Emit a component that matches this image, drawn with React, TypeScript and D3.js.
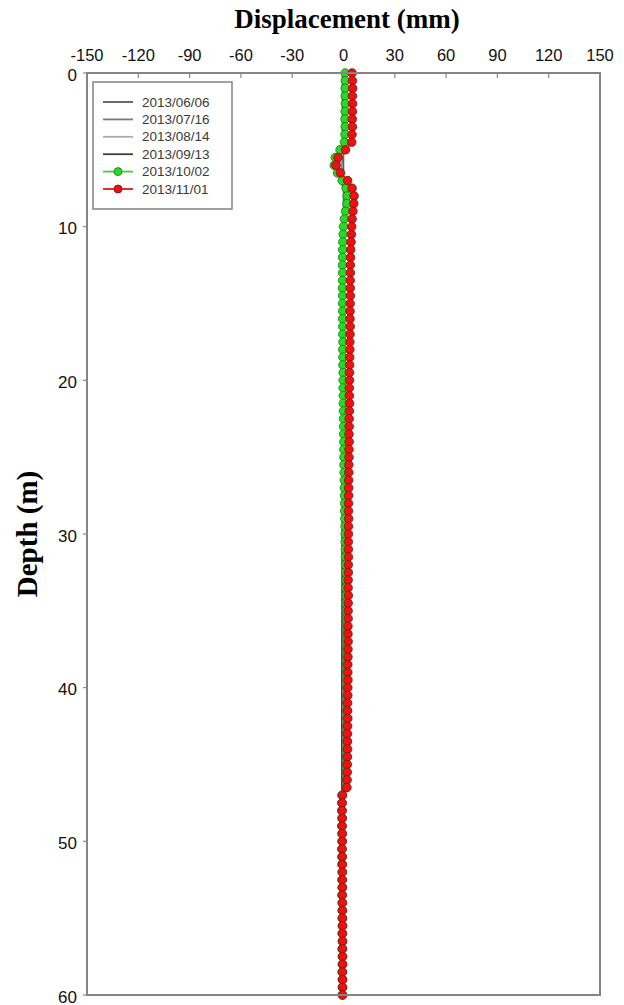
import React from 'react';
import * as d3 from 'd3';

// measurement depths (m), every 0.5 m from 0 to 60
const depths = d3.range(0, 60.5, 0.5);

// 2013/11/01 reading (mm), one value per depth
const dispNov = [
  5.0, 5.2, 5.3, 5.2, 5.3, 5.2, 5.1, 5.2, 5.0, 4.8,
  1.2, -3.2, -4.4, -1.8, 2.4, 5.0, 6.2, 6.0, 5.5, 5.0,
  4.8, 4.6, 4.4, 4.2, 4.1, 4.0, 4.0, 3.9, 3.9, 4.0,
  3.9, 3.8, 3.8, 3.9, 3.8, 3.7, 3.7, 3.6, 3.6, 3.5,
  3.5, 3.4, 3.4, 3.5, 3.4, 3.3, 3.3, 3.2, 3.3, 3.2,
  3.2, 3.1, 3.1, 3.0, 3.0, 3.0, 2.9, 2.9, 3.0, 2.9,
  2.9, 2.8, 2.8, 2.9, 2.8, 2.8, 2.7, 2.7, 2.8, 2.7,
  2.7, 2.7, 2.6, 2.6, 2.7, 2.6, 2.6, 2.5, 2.5, 2.6,
  2.5, 2.5, 2.4, 2.4, 2.5, 2.4, 2.3, 2.3, 2.4, 2.3,
  2.2, 2.2, 2.1, 2.0, -0.6, -0.8, -0.8, -0.7, -0.8, -0.7,
  -0.7, -0.8, -0.7, -0.7, -0.6, -0.7, -0.6, -0.7, -0.6, -0.6,
  -0.6, -0.5, -0.6, -0.5, -0.6, -0.5, -0.5, -0.6, -0.5, -0.5,
  -0.5,
];

// 2013/10/02 reading (mm)
const dispOct = [
  1.0, 1.1, 1.0, 1.0, 1.1, 1.0, 0.9, 1.0, 0.9, 0.6,
  -2.0, -4.8, -5.4, -3.5, -0.8, 1.5, 2.2, 2.0, 1.2, 0.5,
  0.0, -0.2, -0.4, -0.5, -0.5, -0.6, -0.5, -0.5, -0.6, -0.5,
  -0.5, -0.4, -0.5, -0.4, -0.4, -0.3, -0.4, -0.3, -0.3, -0.2,
  -0.2, -0.2, -0.1, -0.1, 0.0, 0.0, 0.1, 0.1, 0.2, 0.2,
  0.3, 0.3, 0.4, 0.5, 0.5, 0.6, 0.7, 0.7, 0.8, 0.9,
  1.0, 1.0, 1.1, 1.2, 1.2, 1.3, 1.4, 1.4, 1.5, 1.5,
  1.6, 1.6, 1.7, 1.7, 1.7, 1.8, 1.8, 1.8, 1.8, 1.9,
  1.9, 1.9, 1.9, 1.9, 2.0, 1.9, 1.9, 1.9, 1.8, 1.8,
  1.8, 1.7, 1.7, 1.6, -0.9, -1.0, -1.0, -0.9, -1.0, -0.9,
  -0.9, -1.0, -0.9, -0.9, -0.8, -0.9, -0.8, -0.9, -0.8, -0.8,
  -0.8, -0.7, -0.8, -0.7, -0.8, -0.7, -0.7, -0.8, -0.7, -0.7,
  -0.7,
];

// earlier readings, drawn as plain lines
const grayDepths = [0, 4.5, 5, 6, 7, 8, 10, 12, 20, 30, 40, 46.5, 47, 60];
const dispJun = [0, 0, 0, 0, 0, 0, 0, 0, 0, 0, 0, 0, 0, 0];
const dispJul = [0.3, 0.3, 0, -1.0, -0.3, 0.6, 0.2, 0, 0, 0.2, 0.3, 0.3, -0.3, -0.3];
const dispAug = [0.6, 0.5, -0.5, -2.0, -0.8, 1.0, 0.2, -0.2, -0.1, 0.5, 0.8, 0.8, -0.5, -0.4];
const dispSep = [-0.6, -0.6, -1.0, -3.2, -1.5, 1.4, -0.6, -0.8, -0.6, -0.8, -1.0, -1.0, -0.7, -0.5];

const xTicks = [-150, -120, -90, -60, -30, 0, 30, 60, 90, 120, 150];
const yTicks = [0, 10, 20, 30, 40, 50, 60];

const series = [
  { name: '2013/06/06', d: grayDepths, v: dispJun, color: '#5a5a5a', marker: null },
  { name: '2013/07/16', d: grayDepths, v: dispJul, color: '#7a7a7a', marker: null },
  { name: '2013/08/14', d: grayDepths, v: dispAug, color: '#ababab', marker: null },
  { name: '2013/09/13', d: grayDepths, v: dispSep, color: '#3c3c3c', marker: null },
  { name: '2013/10/02', d: depths, v: dispOct, color: '#3ad13a', marker: { fill: '#22dd22', stroke: '#2b6e2b' } },
  { name: '2013/11/01', d: depths, v: dispNov, color: '#e01a1a', marker: { fill: '#ee1111', stroke: '#7a1010' } },
];

const W = 624, H = 1005;
const left = 87, right = 600, top = 73, bottom = 995;

export default function App() {
  const x = d3.scaleLinear().domain([-150, 150]).range([left, right]);
  const y = d3.scaleLinear().domain([0, 60]).range([top, bottom]);

  const sans = '"Liberation Sans", Arial, sans-serif';
  const serif = '"Liberation Serif", "Times New Roman", serif';

  return (
    <svg width={W} height={H} style={{ position: 'absolute', left: 0, top: 0, background: '#fff' }}>
      <text x={347} y={28} textAnchor="middle" fontFamily={serif} fontWeight="bold" fontSize={27}>Displacement (mm)</text>
      <text transform={`translate(37,${y(30)}) rotate(-90)`} textAnchor="middle" fontFamily={serif} fontWeight="bold" fontSize={29}>Depth (m)</text>

      {xTicks.map(t => (
        <g key={'x' + t}>
          <text x={x(t)} y={61} textAnchor="middle" fontFamily={sans} fontSize={16.5} fill="#111">{t}</text>
          <line x1={x(t)} x2={x(t)} y1={top} y2={top + 5} stroke="#888" strokeWidth={1.2} />
        </g>
      ))}
      {yTicks.map(t => (
        <g key={'y' + t}>
          <text x={77} y={y(t) + 7.5} textAnchor="end" fontFamily={sans} fontSize={17} fill="#111">{t}</text>
          <line x1={left - 4} x2={left} y1={y(t)} y2={y(t)} stroke="#888" strokeWidth={1.2} />
        </g>
      ))}

      {series.map(s => {
        const line = d3.line<number>().x((_, i) => x(s.v[i])).y(dd => y(dd));
        return (
          <g key={s.name}>
            <path d={line(s.d) || ''} fill="none" stroke={s.color} strokeWidth={1.6} />
            {s.marker && s.d.map((dd, i) => (
              <circle key={i} cx={x(s.v[i])} cy={y(dd)} r={4.3} fill={s.marker!.fill} stroke={s.marker!.stroke} strokeWidth={0.8} />
            ))}
          </g>
        );
      })}

      <rect x={left} y={top} width={right - left} height={bottom - top} fill="none" stroke="#858585" strokeWidth={2} />

      <rect x={93} y={82} width={139} height={127} fill="#fff" stroke="#8a8a8a" strokeWidth={1.6} />
      {series.map((s, i) => {
        const ly = 102 + i * 17.4;
        return (
          <g key={'lg' + s.name}>
            <line x1={103} x2={133} y1={ly} y2={ly} stroke={s.color} strokeWidth={1.8} />
            {s.marker && <circle cx={118} cy={ly} r={4} fill={s.marker.fill} stroke={s.marker.stroke} strokeWidth={0.8} />}
            <text x={142} y={ly + 4.5} fontFamily={sans} fontSize={13.5} fill="#3a3a3a">{s.name}</text>
          </g>
        );
      })}
    </svg>
  );
}
